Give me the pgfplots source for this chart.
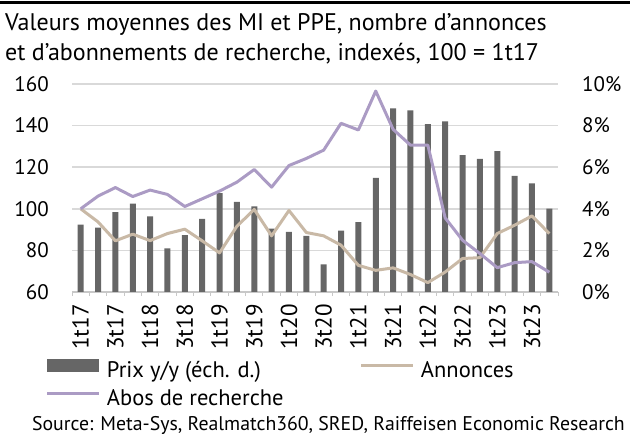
\documentclass[border=0pt]{standalone}
\usepackage{pgfplots}
\usepackage{pgfplotstable}
\pgfplotsset{compat=1.18}
\usepackage{fontspec}
\setmainfont{PT Sans}
\definecolor{barcolor}{RGB}{102,102,102}
\definecolor{beige}{RGB}{201,185,166}
\definecolor{purp}{RGB}{171,155,196}
\definecolor{gridgray}{RGB}{217,217,217}
\definecolor{axisgray}{RGB}{200,200,200}
\pgfplotstableread{
i prix annonces abos
0 3.24 100 100
1 3.10 93.7 106.1
2 3.84 84.6 110.2
3 4.25 87.8 105.9
4 3.64 84.7 109.0
5 2.10 88.1 106.9
6 2.73 90.2 101.1
7 3.52 84.6 104.8
8 4.75 78.8 108.5
9 4.33 91.6 112.8
10 4.12 99.7 118.9
11 3.05 87.0 110.4
12 2.89 99.2 120.8
13 2.70 88.6 124.2
14 1.33 87.0 128.2
15 2.95 82.5 141.1
16 3.36 72.8 137.9
17 5.49 70.4 156.6
18 8.83 71.6 138.2
19 8.73 68.4 130.6
20 8.07 64.5 130.6
21 8.20 69.6 95.6
22 6.58 76.1 84.9
23 6.40 76.5 78.5
24 6.77 88.1 71.7
25 5.58 92.1 74.1
26 5.22 96.6 74.6
27 4.01 88.1 69.5
}\data
\begin{document}
\begin{tikzpicture}[x=1pt,y=1pt]
\useasboundingbox (0,0) rectangle (630,436);
\draw[black, line width=3pt] (0,433.5) -- (630,433.5);
\node[anchor=base west, inner sep=0pt, font=\fontsize{24}{24}\selectfont] at (5,405.3) {Valeurs moyennes des MI et PPE, nombre d’annonces};
\node[anchor=base west, inner sep=0pt, font=\fontsize{24}{24}\selectfont] at (5,375.3) {et d’abonnements de recherche, indexés, 100 = 1t17};
\node[anchor=base east, inner sep=0pt, font=\fontsize{19.8}{19.8}\selectfont] at (625,5) {Source: Meta-Sys, Realmatch360, SRED, Raiffeisen Economic Research};
\begin{axis}[
  at={(72pt,144pt)}, anchor=south west, scale only axis,
  width=486pt, height=208pt,
  xmin=-0.5, xmax=27.5, ymin=0, ymax=10,
  axis y line*=right, axis x line*=bottom,
  y axis line style={draw=none},
  x axis line style={-, draw=axisgray, line width=1.5pt},
  ytick={0,2,...,10}, yticklabels={0\%,2\%,4\%,6\%,8\%,10\%},
  ymajorgrids, grid style={gridgray, line width=1.5pt},
  major tick length=0pt,
  xtick={0,2,...,26},
  xticklabels={1t17,3t17,1t18,3t18,1t19,3t19,1t20,3t20,1t21,3t21,1t22,3t22,1t23,3t23},
  minor xtick={-0.5,0.5,...,27.5},
  minor tick length=4pt, tick align=outside,
  minor tick style={axisgray, line width=1pt},
  tick label style={font=\fontsize{21}{21}\selectfont, inner sep=0pt},
  xticklabel style={rotate=90, anchor=east, font=\fontsize{23}{23}\selectfont},
  xticklabel shift=12pt, yticklabel shift=24pt,
  ybar, bar width=6pt,
]
\addplot[fill=barcolor, draw=none] table[x=i,y=prix]{\data};
\end{axis}
\begin{axis}[
  at={(72pt,144pt)}, anchor=south west, scale only axis,
  width=486pt, height=208pt,
  xmin=-0.5, xmax=27.5, ymin=60, ymax=160,
  axis y line*=left, axis x line=none,
  y axis line style={draw=none},
  ytick={60,80,...,160}, yticklabels={60,80,100,120,140,160},
  major tick length=0pt,
  tick label style={font=\fontsize{21}{21}\selectfont, inner sep=0pt},
  yticklabel shift=23pt,
  legend columns=2,
  legend style={at={(-0.0535,-0.322)}, anchor=north west, draw=none, fill=none,
    inner sep=0pt, outer sep=0pt, font=\fontsize{22.5}{22.5}\selectfont,
    nodes={inner sep=0pt, text height=15pt, text depth=5pt},
    row sep=8pt,
    /tikz/every odd column/.append style={column sep=6pt},
    /tikz/every even column/.append style={column sep=69pt}},
  legend image code/.code={\draw[#1] (0pt,7pt) -- (52pt,7pt);},
]
\addlegendimage{draw=none, legend image code/.code={\fill[barcolor] (0pt,0.5pt) rectangle (52pt,13.5pt);}}
\addlegendentry{\makebox[184pt][l]{Prix y/y (éch. d.)}}
\addplot[beige, line width=3pt, line join=round] table[x=i,y=annonces]{\data};
\addlegendentry{Annonces}
\addplot[purp, line width=3pt, line join=round] table[x=i,y=abos]{\data};
\addlegendentry{\makebox[184pt][l]{Abos de recherche}}
\end{axis}
\end{tikzpicture}
\end{document}
